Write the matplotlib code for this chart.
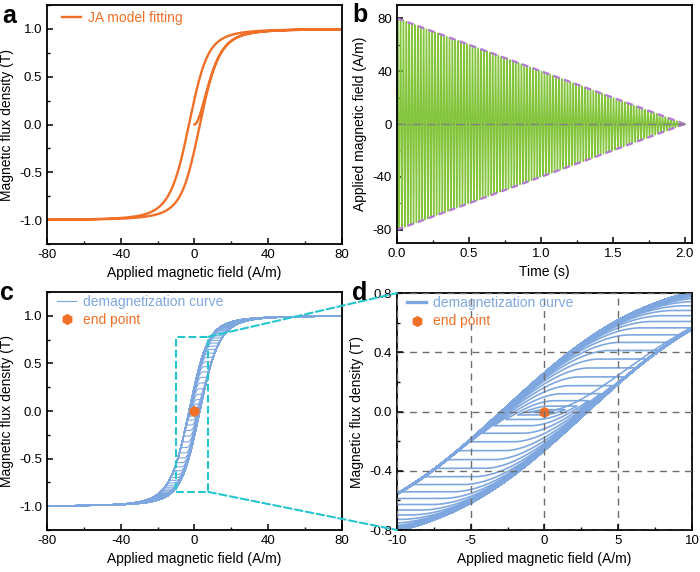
import math
import numpy as np
import matplotlib
matplotlib.use('Agg')
import matplotlib.pyplot as plt
from matplotlib.patches import Rectangle, ConnectionPatch
from matplotlib.ticker import MultipleLocator

plt.rcParams['font.family'] = ['Liberation Sans', 'DejaVu Sans']
plt.rcParams['axes.unicode_minus'] = False
plt.rcParams['xtick.direction'] = 'in'
plt.rcParams['ytick.direction'] = 'in'

# excitation
H_peak = 80.0      # A/m at t = 0
t_end = 2.0        # s, field decays linearly to zero
freq = 50          # Hz
pts_per_cycle = 2000

# JA-type model constants chosen to match the loop in panel a
B_sat = 1.0
a_shape = 10.2
n_knee = 2.3
k_pin = 3.1

# zoom window marked in panel c and end point
zoom_x = [-10, 7.5]
zoom_y = [-0.85, 0.78]
end_H = [0.0]
end_B = [0.0]

# envelope of the decaying field (panel b)
env_t = [0.0, 2.0]
env_H = [80.0, 0.0]

orange = '#f07028'
blue = '#7ea7e0'
green = '#82c43a'
purple = '#b47ad8'
cyan = '#26c6cf'


def anhysteretic(h):
    x = h / a_shape
    return B_sat * x / (1 + np.abs(x) ** n_knee) ** (1 / n_knee)


def ja_response(H):
    man = anhysteretic(H).tolist()
    hl = H.tolist()
    out = [0.0] * len(hl)
    m = 0.0
    for i in range(1, len(hl)):
        dh = hl[i] - hl[i - 1]
        diff = man[i] - m
        if diff * dh > 0:
            m += diff * (1 - math.exp(-abs(dh) / k_pin))
        out[i] = m
    return np.array(out)


# major loop for panel a
n = 4000
H_major = np.concatenate([np.linspace(0, H_peak, n),
                          np.linspace(H_peak, -H_peak, 2 * n),
                          np.linspace(-H_peak, H_peak, 2 * n)])
B_major = ja_response(H_major)

# decaying sine for panels b-d
t = np.linspace(0, t_end, int(freq * t_end) * pts_per_cycle + 1)
H_demag = H_peak * (1 - t / t_end) * np.sin(2 * np.pi * freq * t)
B_demag = ja_response(H_demag)

fig = plt.figure(figsize=(7.0, 5.72), dpi=100)
ax_a = fig.add_axes([0.0671, 0.5734, 0.4214, 0.4178])
ax_b = fig.add_axes([0.5671, 0.5752, 0.4214, 0.4160])
ax_c = fig.add_axes([0.0671, 0.0734, 0.4214, 0.4161])
ax_d = fig.add_axes([0.5671, 0.0734, 0.4214, 0.4143])


def style(ax):
    for s in ax.spines.values():
        s.set_linewidth(1.3)
    ax.tick_params(which='major', length=4, width=1.1, labelsize=9.5)
    ax.tick_params(which='minor', length=2.5, width=1.0)


leg_kw = dict(loc='upper left', frameon=False, fontsize=10, labelcolor='linecolor',
              handlelength=1.4, handletextpad=0.5, borderaxespad=0, labelspacing=0.3)

# a
ax_a.plot(H_major, B_major, color=orange, lw=1.7, label='JA model fitting')
ax_a.set_xlim(-80, 80)
ax_a.set_ylim(-1.25, 1.25)
ax_a.xaxis.set_major_locator(MultipleLocator(40))
ax_a.xaxis.set_minor_locator(MultipleLocator(20))
ax_a.yaxis.set_major_locator(MultipleLocator(0.5))
ax_a.yaxis.set_minor_locator(MultipleLocator(0.25))
ax_a.yaxis.set_major_formatter('{x:.1f}')
ax_a.set_xlabel('Applied magnetic field (A/m)', fontsize=10)
ax_a.set_ylabel('Magnetic flux density (T)', fontsize=10)
ax_a.legend(bbox_to_anchor=(0.032, 1.0), **leg_kw)
style(ax_a)

# b
ax_b.plot(t, H_demag, color=green, lw=1.0)
ax_b.plot(env_t, env_H, color=purple, lw=1.6, ls=(0, (3, 2)))
ax_b.plot(env_t, [-v for v in env_H], color=purple, lw=1.6, ls=(0, (3, 2)))
ax_b.plot(env_t, [0, 0], color='#808080', lw=1.0, ls='-.')
ax_b.set_xlim(0, 2.05)
ax_b.set_ylim(-90, 90)
ax_b.xaxis.set_major_locator(MultipleLocator(0.5))
ax_b.xaxis.set_minor_locator(MultipleLocator(0.25))
ax_b.xaxis.set_major_formatter('{x:.1f}')
ax_b.yaxis.set_major_locator(MultipleLocator(40))
ax_b.yaxis.set_minor_locator(MultipleLocator(20))
ax_b.set_xlabel('Time (s)', fontsize=10)
ax_b.set_ylabel('Applied magnetic field (A/m)', fontsize=10)
style(ax_b)

# c
ax_c.plot(H_demag, B_demag, color=blue, lw=0.8, label='demagnetization curve')
ax_c.plot(end_H, end_B, 'h', color=orange, ms=7, label='end point')
ax_c.add_patch(Rectangle((zoom_x[0], zoom_y[0]), zoom_x[1] - zoom_x[0],
                         zoom_y[1] - zoom_y[0], fill=False, ls='--',
                         color=cyan, lw=1.5, zorder=5))
ax_c.set_xlim(-80, 80)
ax_c.set_ylim(-1.25, 1.25)
ax_c.xaxis.set_major_locator(MultipleLocator(40))
ax_c.xaxis.set_minor_locator(MultipleLocator(20))
ax_c.yaxis.set_major_locator(MultipleLocator(0.5))
ax_c.yaxis.set_minor_locator(MultipleLocator(0.25))
ax_c.yaxis.set_major_formatter('{x:.1f}')
ax_c.set_xlabel('Applied magnetic field (A/m)', fontsize=10)
ax_c.set_ylabel('Magnetic flux density (T)', fontsize=10)
ax_c.legend(bbox_to_anchor=(0.015, 1.01), **leg_kw)
style(ax_c)

# d
ax_d.plot(H_demag, B_demag, color=blue, lw=1.2, label='demagnetization curve')
ax_d.plot(end_H, end_B, 'h', color=orange, ms=7, label='end point')
ax_d.set_xlim(-10, 10)
ax_d.set_ylim(-0.8, 0.8)
ax_d.xaxis.set_major_locator(MultipleLocator(5))
ax_d.xaxis.set_minor_locator(MultipleLocator(2.5))
ax_d.yaxis.set_major_locator(MultipleLocator(0.4))
ax_d.yaxis.set_minor_locator(MultipleLocator(0.2))
ax_d.yaxis.set_major_formatter('{x:.1f}')
ax_d.grid(True, which='major', ls=(0, (5, 4)), color='#6e6e6e', lw=1.0)
ax_d.set_axisbelow(False)
ax_d.set_xlabel('Applied magnetic field (A/m)', fontsize=10)
ax_d.set_ylabel('Magnetic flux density (T)', fontsize=10)
leg_d = ax_d.legend(bbox_to_anchor=(0.015, 1.01), **leg_kw)
leg_d.get_lines()[0].set_linewidth(2.4)
style(ax_d)

# connectors from the zoom box in c to panel d
for yc, yd in [(zoom_y[1], 0.8), (zoom_y[0], -0.8)]:
    con = ConnectionPatch(xyA=(zoom_x[1], yc), coordsA=ax_c.transData,
                          xyB=(-10, yd), coordsB=ax_d.transData,
                          color=cyan, lw=1.5, ls='--')
    fig.add_artist(con)

for x, y, s in [(0.003, 0.960, 'a'), (0.503, 0.962, 'b'),
                (0.000, 0.476, 'c'), (0.503, 0.476, 'd')]:
    fig.text(x, y, s, fontsize=18, fontweight='bold', va='baseline')

fig.savefig('out.png', dpi=100)
